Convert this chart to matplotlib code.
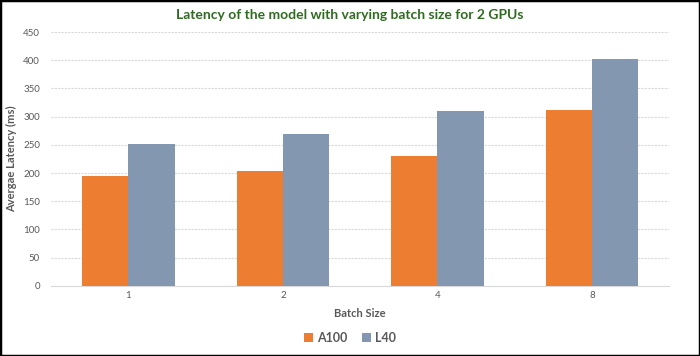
import numpy as np
import matplotlib.pyplot as plt
from matplotlib.patches import Rectangle

plt.rcParams['font.family'] = ['Lato', 'DejaVu Sans']

batch_sizes = ['1', '2', '4', '8']
a100 = [195, 203, 230, 312]
l40 = [252, 270, 310, 403]
series_names = ['A100', 'L40']

fig = plt.figure(figsize=(7, 3.56), dpi=100)
ax = fig.add_axes([0.073, 0.197, 0.883, 0.713])

x = np.arange(len(batch_sizes))
w = 0.3
ax.bar(x - w/2, a100, w, color='#ED7D31', label=series_names[0], zorder=3)
ax.bar(x + w/2, l40, w, color='#8497B0', label=series_names[1], zorder=3)

ax.set_xlim(-0.5, len(batch_sizes) - 0.5)
ax.set_ylim(0, 450)
ax.set_yticks(np.arange(0, 451, 50))
ax.set_xticks(x)
ax.set_xticklabels(batch_sizes)
ax.tick_params(axis='both', length=0, labelsize=7, colors='#595959')
ax.tick_params(axis='y', pad=8)
ax.yaxis.grid(True, color='#D9D9D9', linestyle=(0, (2, 1)), linewidth=0.8, zorder=0)
for s in ['top', 'right', 'left']:
    ax.spines[s].set_visible(False)
ax.spines['bottom'].set_color('#D9D9D9')

ax.set_xlabel('Batch Size', fontsize=8, fontweight='bold', color='#595959', labelpad=6)
ax.set_ylabel('Avergae Latency (ms)', fontsize=8, fontweight='bold', color='#595959', labelpad=4)
fig.suptitle('Latency of the model with varying batch size for 2 GPUs',
             x=0.5, y=0.975, fontsize=10, fontweight='bold', color='#2F6B20')

fig.legend(loc='center', bbox_to_anchor=(0.5, 0.05), ncol=2, frameon=False,
           handlelength=0.7, handleheight=0.7, columnspacing=1.2,
           handletextpad=0.3, prop={'weight': 'bold', 'size': 9}, labelcolor='#595959')

fig.patches.append(Rectangle((0, 0), 1, 1, transform=fig.transFigure, fill=False,
                             edgecolor='black', linewidth=2.5))

fig.savefig('out.png', dpi=100)
